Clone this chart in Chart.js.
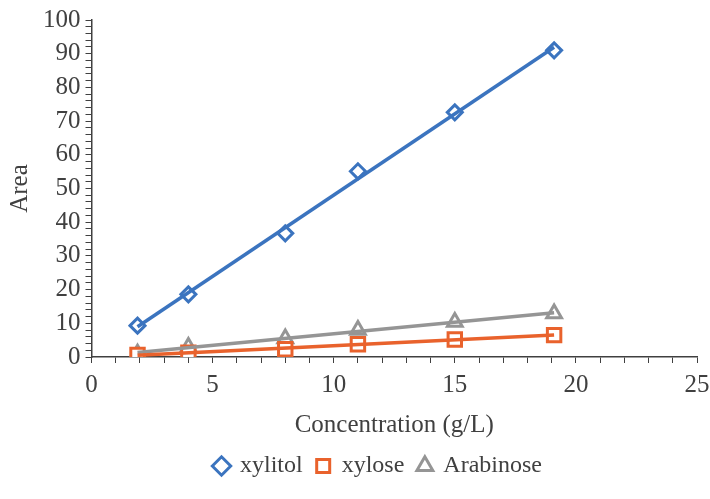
<!DOCTYPE html>
<html>
<head>
<meta charset="utf-8">
<script src="https://cdn.jsdelivr.net/npm/chart.js@4/dist/chart.umd.min.js"></script>
<style>
  html, body { margin: 0; padding: 0; background: #fff; }
  #wrap { width: 710px; height: 499px; }
</style>
</head>
<body>
<div id="wrap"><canvas id="myChart" width="710" height="499"></canvas></div>
<script>
// concentrations (g/L) and peak areas
var xylitolX = [1.9, 4, 8, 11, 15, 19.1];
var xylitolY = [9.3, 18.6, 36.7, 55.1, 72.6, 91.0];
var xyloseX = [1.9, 4, 8, 11, 15, 19.1];
var xyloseY = [0.6, 1.3, 2.3, 3.8, 5.2, 6.5];
var arabinoseX = [1.9, 4, 8, 11, 15, 19.1];
var arabinoseY = [1.0, 3.0, 5.5, 8.0, 10.4, 12.9];
var seriesNames = ['xylitol', 'xylose', 'Arabinose'];
var xTicks = [0, 5, 10, 15, 20, 25];
var yTicks = [0, 10, 20, 30, 40, 50, 60, 70, 80, 90, 100];

var blue = '#3b74bf';
var orange = '#e9622c';
var grey = '#959595';
var axisCol = '#404040';
var textCol = '#404040';
var font = 'Liberation Serif, Times New Roman, serif';

function pts(xs, ys) {
    return xs.map(function (x, i) { return { x: x, y: ys[i] }; });
}

// linear trendline (least squares) between first and last x
function trend(xs, ys) {
    var n = xs.length, sx = 0, sy = 0, sxx = 0, sxy = 0;
    for (var i = 0; i < n; i++) {
        sx += xs[i]; sy += ys[i]; sxx += xs[i] * xs[i]; sxy += xs[i] * ys[i];
    }
    var m = (n * sxy - sx * sy) / (n * sxx - sx * sx);
    var b = (sy - m * sx) / n;
    var x0 = Math.min.apply(null, xs), x1 = Math.max.apply(null, xs);
    return [{ x: x0, y: m * x0 + b }, { x: x1, y: m * x1 + b }];
}

function trendSet(xs, ys, col) {
    return {
        type: 'line', label: '', data: trend(xs, ys), isTrend: true,
        borderColor: col, borderWidth: 3.5, pointRadius: 0, fill: false, order: 0
    };
}

function markerSet(name, xs, ys, col, style, r) {
    return {
        type: 'scatter', label: name, data: pts(xs, ys), order: 1,
        pointStyle: style, pointRadius: r, borderColor: col, backgroundColor: '#ffffff',
        borderWidth: 3, showLine: false
    };
}

// the legend in the original sits a bit right of centre
var legendShift = {
    id: 'legendShift',
    afterLayout: function (chart) {
        chart.legend.left += 21;
        chart.legend.right += 21;
    }
};

var ctx = document.getElementById('myChart').getContext('2d');
var myChart = new Chart(ctx, {
    type: 'scatter',
    data: {
        datasets: [
            trendSet(xylitolX, xylitolY, blue),
            trendSet(xyloseX, xyloseY, orange),
            trendSet(arabinoseX, arabinoseY, grey),
            markerSet(seriesNames[0], xylitolX, xylitolY, blue, 'rectRot', 7.5),
            markerSet(seriesNames[1], xyloseX, xyloseY, orange, 'rect', 9.5),
            markerSet(seriesNames[2], arabinoseX, arabinoseY, grey, 'triangle', 8.5)
        ]
    },
    plugins: [legendShift],
    options: {
        responsive: false,
        animation: false,
        layout: { padding: { left: 5, right: 0, top: 5, bottom: 11 } },
        plugins: {
            tooltip: { enabled: false },
            legend: {
                position: 'bottom',
                labels: {
                    usePointStyle: true,
                    boxWidth: 13, boxHeight: 13,
                    padding: 14,
                    color: textCol,
                    font: { family: font, size: 24 },
                    filter: function (item, data) { return !data.datasets[item.datasetIndex].isTrend; }
                }
            }
        },
        scales: {
            x: {
                type: 'linear', min: 0, max: 25,
                afterBuildTicks: function (axis) {
                    var t = [];
                    for (var v = 0; v <= 25; v++) t.push({ value: v });
                    axis.ticks = t;
                },
                afterFit: function (axis) {
                    axis.paddingRight = 13;
                },
                ticks: {
                    autoSkip: false, maxRotation: 0, color: textCol, padding: 7,
                    font: { family: font, size: 25 },
                    callback: function (v) { return xTicks.indexOf(v) >= 0 ? String(v) : ''; }
                },
                grid: { drawOnChartArea: false, drawTicks: true, tickLength: 6, color: axisCol },
                border: { display: true, color: axisCol, width: 1.5 },
                title: { display: true, text: 'Concentration (g/L)', color: textCol, font: { family: font, size: 25 }, padding: { top: 3, bottom: 0 } }
            },
            y: {
                type: 'linear', min: 0, max: 100,
                afterBuildTicks: function (axis) {
                    var t = [];
                    for (var v = 0; v <= 100; v += 2) t.push({ value: v });
                    axis.ticks = t;
                },
                ticks: {
                    autoSkip: false, color: textCol, padding: 5,
                    font: { family: font, size: 25 },
                    callback: function (v) { return yTicks.indexOf(v) >= 0 ? String(v) : ''; }
                },
                grid: { drawOnChartArea: false, drawTicks: true, tickLength: 6, color: axisCol },
                border: { display: true, color: axisCol, width: 1.5 },
                title: { display: true, text: 'Area', color: textCol, font: { family: font, size: 25 }, padding: { top: 0, bottom: 3 } }
            }
        }
    }
});
</script>
</body>
</html>
